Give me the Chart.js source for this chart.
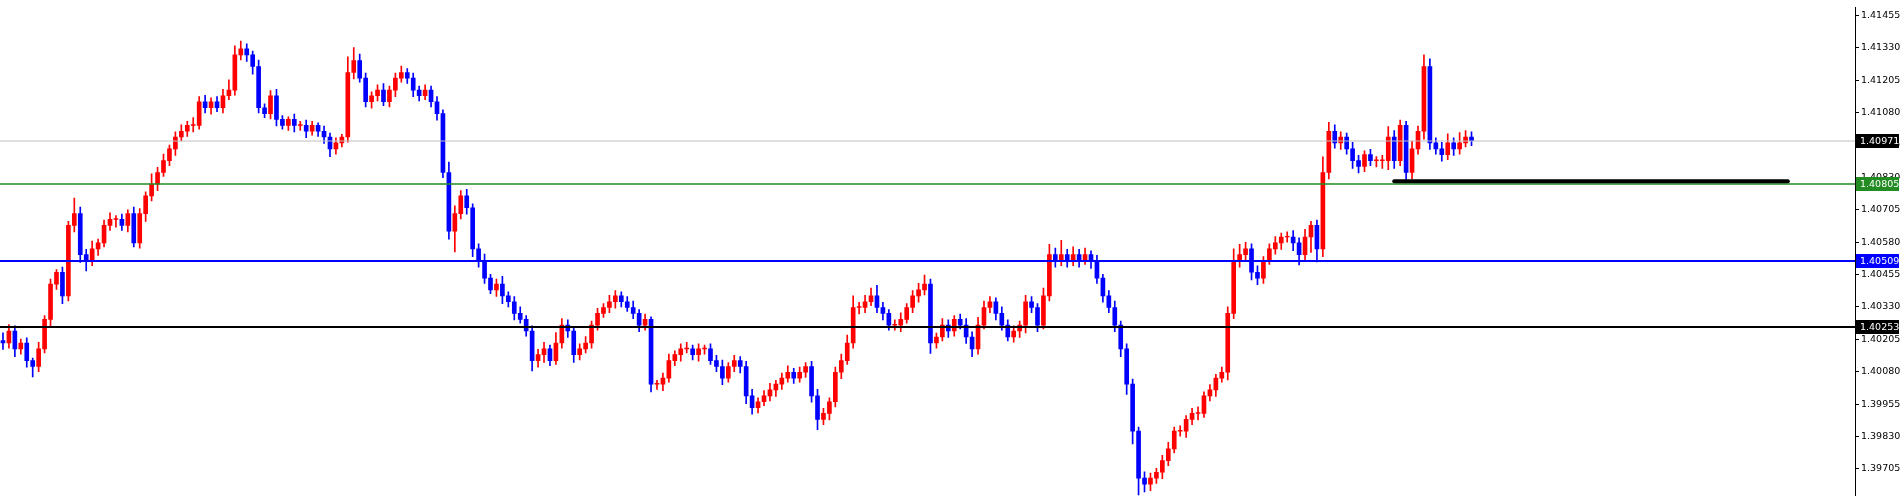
<!DOCTYPE html>
<html>
<head>
<meta charset="utf-8">
<script src="https://cdn.jsdelivr.net/npm/chart.js@4.4.0/dist/chart.umd.min.js"></script>
<style>
  body { margin: 0; background: #fff; }
  #wrap { width: 1901px; height: 503px; }
</style>
</head>
<body>
<div id="wrap"><canvas id="chart" width="1901" height="503"></canvas></div>
<script>
// prices in points above 1.40000 (1 point = 0.00001)
var firstOpen = 200;
var closes = [
  191,237,168,191,123,100,168,282,418,464,
  373,645,690,532,509,554,577,645,668,668,
  645,690,577,690,759,804,849,895,940,986,
  1008,1031,1031,1122,1099,1122,1099,1145,1167,1303,
  1326,1303,1258,1099,1076,1145,1054,1031,1054,1031,
  1031,1008,1031,1008,986,940,963,986,1235,1281,
  1213,1122,1145,1167,1122,1167,1213,1235,1213,1167,
  1145,1167,1122,1076,849,622,690,759,713,554,
  509,441,396,418,373,350,305,282,237,123,
  146,168,123,191,260,237,146,168,191,260,
  305,328,350,373,350,328,305,260,282,32,
  32,55,123,146,168,168,146,168,168,123,
  100,55,100,123,100,-13,-59,-36,-13,10,
  32,55,78,55,78,100,-13,-104,-81,-36,
  78,123,191,328,328,350,373,328,305,260,
  260,282,328,373,396,418,191,214,260,237,
  282,260,214,168,260,328,350,305,260,214,
  237,260,350,328,260,373,532,509,532,509,
  532,509,532,509,441,373,328,260,168,32,
  -149,-331,-354,-331,-308,-263,-218,-149,-149,-104,
  -81,-81,-13,10,55,78,305,509,532,554,
  464,441,509,554,577,600,600,577,532,600,
  645,554,849,1008,963,986,940,895,872,918,
  895,895,895,986,895,1031,849,940,1008,1258,
  963,940,918,963,940,963,986,972
];
var upWick = [
  30,25,20,15,20,10,25,15,20,10,
  20,15,60,25,20,30,15,20,25,15,
  20,15,25,20,15,40,20,25,15,20,
  25,15,30,20,25,15,20,25,40,35,
  30,20,15,25,15,20,25,15,10,20,
  15,20,15,10,20,15,20,10,60,50,
  25,20,15,20,25,15,20,25,15,20,
  15,20,15,20,15,40,30,20,25,15,
  20,25,15,20,30,15,20,25,15,20,
  20,25,15,40,25,20,15,20,25,15,
  20,15,25,20,15,20,25,15,20,10,
  15,20,25,15,20,25,15,20,15,20,
  20,25,15,20,15,20,25,15,20,25,
  15,20,25,15,20,15,20,25,20,15,
  20,25,30,45,20,25,30,40,20,15,
  20,25,15,20,25,35,20,15,25,20,
  15,20,25,20,30,25,20,15,25,20,
  20,15,25,20,15,30,40,25,55,20,
  30,20,25,15,20,15,20,25,15,20,
  20,15,25,20,15,20,25,15,20,15,
  20,25,15,20,15,20,25,45,40,25,
  20,25,15,20,25,15,20,25,20,30,
  15,20,60,35,25,20,15,25,20,15,
  20,15,20,40,25,20,15,30,20,45,
  30,20,25,35,20,40,25,20
];
var downWick = [
  25,20,30,20,25,40,20,15,25,20,
  30,20,25,30,40,20,25,15,20,30,
  20,25,15,20,30,20,25,15,20,25,
  15,20,25,15,20,25,15,20,15,20,
  20,25,30,20,15,20,25,15,20,25,
  20,25,15,20,25,30,20,15,20,25,
  15,20,25,20,15,20,25,15,20,25,
  20,15,20,25,20,30,80,20,25,30,
  25,20,15,25,30,20,25,15,20,40,
  25,30,20,15,20,25,30,20,15,20,
  20,15,20,25,20,15,20,25,20,30,
  20,25,15,20,25,15,20,25,20,15,
  20,25,15,20,25,30,25,20,15,20,
  25,20,15,20,15,20,25,40,20,25,
  20,25,15,20,25,20,15,20,25,20,
  20,25,15,20,25,20,40,20,15,25,
  20,15,25,30,20,15,20,25,20,15,
  20,25,30,20,25,15,20,25,20,25,
  20,25,15,30,20,25,20,25,30,40,
  50,80,30,25,20,25,20,15,20,25,
  20,25,15,20,25,15,30,20,25,20,
  30,25,20,15,20,25,20,30,40,25,
  60,50,30,25,20,25,20,30,25,20,
  20,25,30,35,30,20,40,25,20,30,
  25,20,25,20,25,20,15,20
];
var slotCount = 312;
var yTicks = [1.41455,1.41330,1.41205,1.41080,1.40955,1.40830,1.40705,1.40580,1.40455,1.40330,1.40205,1.40080,1.39955,1.39830,1.39705];
var levels = [1.40971, 1.40805, 1.40509, 1.40253];
var levelColors = ['#c0c0c0', '#228b22', '#0000ff', '#000000'];
var levelBoxColors = ['#000000', '#228b22', '#0000ff', '#000000'];
var levelWidths = [1, 1.5, 2, 2];
var markPrice = 1.40815, markFrom = 234.5, markTo = 300.7;
var axisFont = '9.5px "DejaVu Sans"';

function px(v) { return 1.4 + v / 100000; }

var labels = [], bodies = [], wicks = [], colors = [];
for (var i = 0; i < slotCount; i++) labels.push(i);
for (var i = 0; i < closes.length; i++) {
    var o = i === 0 ? firstOpen : closes[i - 1];
    var c = closes[i];
    var hi = Math.max(o, c) + upWick[i];
    var lo = Math.min(o, c) - downWick[i];
    var b0 = px(o), b1 = px(c);
    if (Math.abs(o - c) < 3) b1 = px(c + 3);
    bodies.push([b0, b1]);
    wicks.push([px(lo), px(hi)]);
    colors.push(c >= o ? '#ff0000' : '#0000ff');
}

const levelPlugin = {
    id: 'levels',
    afterDatasetsDraw(chart) {
        const ctx = chart.ctx, a = chart.chartArea, y = chart.scales.y;
        ctx.save();
        for (var k = 0; k < levels.length; k++) {
            var yy = Math.round(y.getPixelForValue(levels[k]));
            ctx.strokeStyle = levelColors[k];
            ctx.lineWidth = levelWidths[k];
            ctx.beginPath(); ctx.moveTo(a.left, yy); ctx.lineTo(a.right, yy); ctx.stroke();
        }
        // thick marker segment
        var my = y.getPixelForValue(markPrice);
        var step = (a.right - a.left) / slotCount;
        ctx.strokeStyle = '#000'; ctx.lineWidth = 4; ctx.lineCap = 'round';
        ctx.beginPath();
        ctx.moveTo(a.left + markFrom * step, my); ctx.lineTo(a.left + markTo * step, my);
        ctx.stroke();
        ctx.restore();
    },
    afterDraw(chart) {
        const ctx = chart.ctx, a = chart.chartArea, y = chart.scales.y;
        ctx.save();
        ctx.font = axisFont;
        ctx.textBaseline = 'middle';
        for (var k = 0; k < levels.length; k++) {
            var yy = Math.round(y.getPixelForValue(levels[k]));
            ctx.fillStyle = levelBoxColors[k];
            ctx.fillRect(a.right + 1, yy - 7, 43, 14);
            ctx.fillStyle = '#fff';
            ctx.fillText(levels[k].toFixed(5), a.right + 5, yy + 1);
        }
        ctx.restore();
    }
};

new Chart(document.getElementById('chart'), {
    type: 'bar',
    data: {
        labels: labels,
        datasets: [{
            data: wicks,
            backgroundColor: colors,
            barThickness: 1,
            grouped: false
        }, {
            data: bodies,
            backgroundColor: colors,
            barThickness: 4,
            grouped: false
        }]
    },
    options: {
        responsive: false,
        animation: false,
        layout: { padding: 0 },
        plugins: { legend: { display: false }, tooltip: { enabled: false } },
        scales: {
            x: { display: false, offset: true },
            y: {
                position: 'right',
                min: 1.39603,
                max: 1.41485,
                afterBuildTicks: function (axis) { axis.ticks = yTicks.map(v => ({ value: v })); },
                afterFit: function (axis) { axis.width = 46; },
                ticks: {
                    color: '#000',
                    font: { family: 'DejaVu Sans', size: 9.5 },
                    padding: 2,
                    callback: v => v.toFixed(5)
                },
                grid: { drawOnChartArea: false, tickLength: 4, tickColor: '#000' },
                border: { color: '#000', width: 1 }
            }
        }
    },
    plugins: [levelPlugin]
});
</script>
</body>
</html>
